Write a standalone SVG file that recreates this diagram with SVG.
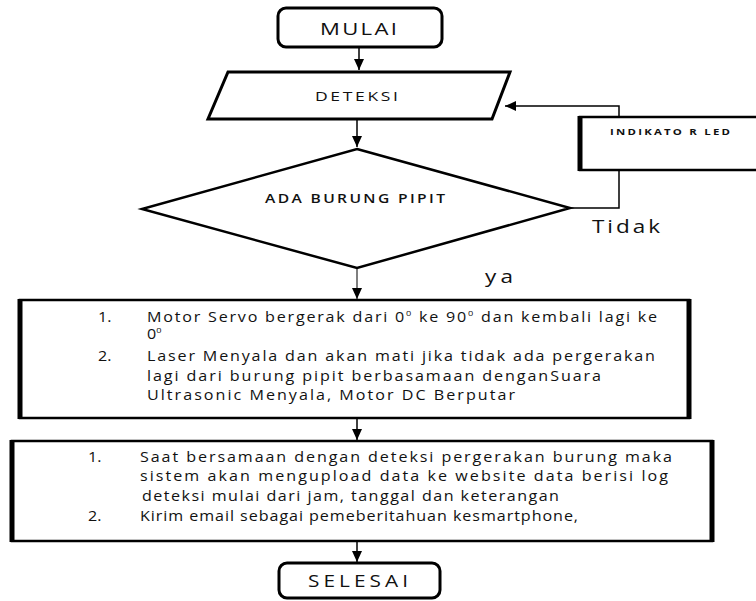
<svg xmlns="http://www.w3.org/2000/svg" width="756" height="601" viewBox="0 0 756 601">
<style>
.t{font-family:"Open Sans","Liberation Sans",Arial,sans-serif;fill:#111}
.b{fill:#fff;stroke:#000;stroke-width:2.5}
.e{fill:none;stroke:#000;stroke-width:5}
.c{fill:none;stroke:#000;stroke-width:1.5}
.g{fill:none;stroke:#555;stroke-width:1.5}
.s{font-size:14px}
</style>
<defs>
<marker id="ah" markerUnits="userSpaceOnUse" markerWidth="12" markerHeight="10" refX="11" refY="5" orient="auto"><path d="M0,0 L11,5 L0,10 z" fill="#000"/></marker>
</defs>
<rect width="756" height="601" fill="#fff"/>
<g id="connectors">
<path class="c" d="M359,47 V70" marker-end="url(#ah)"/>
<path class="c" d="M357,119 V147" marker-end="url(#ah)"/>
<path class="g" d="M357,268 V299" marker-end="url(#ah)"/>
<path class="c" d="M357,418 V440" marker-end="url(#ah)"/>
<path class="c" d="M357,541 V562" marker-end="url(#ah)"/>
<path class="c" d="M570,208 H619 V170"/>
<path class="c" d="M619,117 V106 H505" marker-end="url(#ah)"/>
<text class="t" transform="translate(592 233) scale(1.25 1)" font-size="18" fill="#333" textLength="54.4" lengthAdjust="spacing">Tidak</text>
<text class="t" transform="translate(485 283) scale(1.25 1)" font-size="18" fill="#333" textLength="22.4" lengthAdjust="spacing">ya</text>
</g>
<g id="mulai">
<rect x="278" y="8" width="164" height="39" rx="8" fill="#fff" stroke="#000" stroke-width="3"/>
<text class="t" transform="translate(320 35) scale(1.3 1)" font-size="17" textLength="59.2" lengthAdjust="spacing">MULAI</text>
</g>
<g id="deteksi">
<path d="M228,72 H510 L492,119 H208 Z" fill="#fff" stroke="#000" stroke-width="3"/>
<text class="t" transform="translate(315 101) scale(1.3 1)" font-size="13.5" textLength="63.8" lengthAdjust="spacing">DETEKSI</text>
</g>
<g id="decision">
<path d="M357,149 L570,208 L357,268 L142,209 Z" fill="#fff" stroke="#000" stroke-width="2.5"/>
<text class="t" transform="translate(265 203) scale(1.2 1)" font-size="13" font-weight="600" textLength="150" lengthAdjust="spacing">ADA BURUNG PIPIT</text>
</g>
<g id="indikator">
<rect class="b" x="580" y="117" width="200" height="53"/>
<path class="e" d="M580,116 V171"/>
<text class="t" transform="translate(610 135) scale(1.2 1)" font-size="9.5" font-weight="bold" textLength="100" lengthAdjust="spacing">INDIKATO R LED</text>
</g>
<g id="proses1">
<rect class="b" x="20" y="300" width="669" height="118"/>
<path class="e" d="M20,299 V419 M689,299 V419"/>
<text class="t s" transform="translate(98 322) scale(1.15 1)">1.</text>
<text class="t s" transform="translate(147 322) scale(1.15 1)" textLength="443.5" lengthAdjust="spacing">Motor Servo bergerak dari 0<tspan font-size="8" dy="-6">0</tspan><tspan dy="6"> ke 90</tspan><tspan font-size="8" dy="-6">0</tspan><tspan dy="6"> dan kembali lagi ke</tspan></text>
<text class="t s" transform="translate(147 339) scale(1.15 1)">0<tspan font-size="8" dy="-6">0</tspan></text>
<text class="t s" transform="translate(98 361) scale(1.15 1)">2.</text>
<text class="t s" transform="translate(147 361) scale(1.15 1)" textLength="441.7" lengthAdjust="spacing">Laser Menyala dan akan mati jika tidak ada pergerakan</text>
<text class="t s" transform="translate(147 381) scale(1.15 1)" textLength="394.8" lengthAdjust="spacing">lagi dari burung pipit berbasamaan denganSuara</text>
<text class="t s" transform="translate(147 400) scale(1.15 1)" textLength="320" lengthAdjust="spacing">Ultrasonic Menyala, Motor DC Berputar</text>
</g>
<g id="proses2">
<rect class="b" x="12" y="441" width="700" height="100"/>
<path class="e" d="M12,440 V542 M712,440 V542"/>
<text class="t s" transform="translate(88 462) scale(1.15 1)">1.</text>
<text class="t s" transform="translate(140 462) scale(1.15 1)" textLength="462.6" lengthAdjust="spacing">Saat bersamaan dengan deteksi pergerakan burung maka</text>
<text class="t s" transform="translate(140 481) scale(1.15 1)" textLength="459.1" lengthAdjust="spacing">sistem akan mengupload data ke website data berisi log</text>
<text class="t s" transform="translate(142 501) scale(1.15 1)" textLength="362.6" lengthAdjust="spacing">deteksi mulai dari jam, tanggal dan keterangan</text>
<text class="t s" transform="translate(88 521) scale(1.15 1)">2.</text>
<text class="t s" transform="translate(140 521) scale(1.15 1)" textLength="380.9" lengthAdjust="spacing">Kirim email sebagai pemeberitahuan kesmartphone,</text>
</g>
<g id="selesai">
<rect x="279" y="563" width="161" height="35" rx="8" fill="#fff" stroke="#000" stroke-width="3"/>
<text class="t" transform="translate(308 587) scale(1.3 1)" font-size="16" textLength="76.9" lengthAdjust="spacing">SELESAI</text>
</g>
</svg>
